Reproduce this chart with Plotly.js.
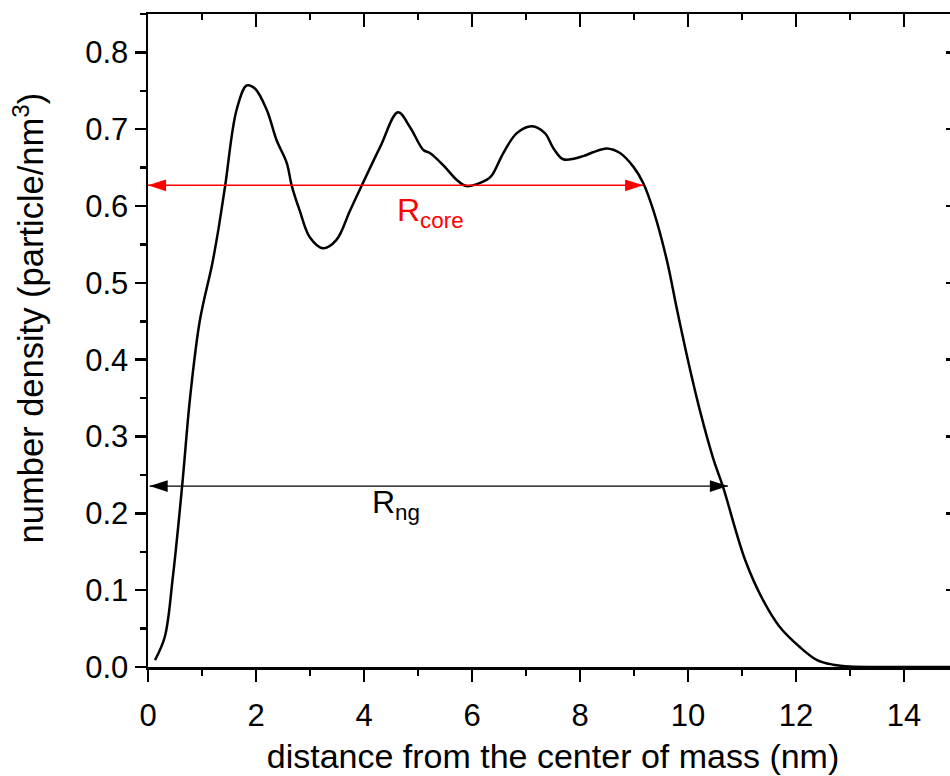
<!DOCTYPE html>
<html>
<head>
<meta charset="utf-8">
<script src="https://cdn.plot.ly/plotly-3.0.1.min.js"></script>
<style>
html,body{margin:0;padding:0;overflow:hidden;background:#fff;width:950px;height:776px;}
#chart{width:970px;height:776px;}
</style>
</head>
<body>
<div id="chart"></div>
<script>
// distance from the center of mass (nm)
const distance = [0.13,0.31,0.46,0.63,0.78,0.96,1.19,1.30,1.43,1.64,1.83,1.98,2.20,2.38,2.57,2.66,2.81,3.00,3.24,3.49,3.74,3.96,4.30,4.63,4.85,5.10,5.22,5.47,5.72,5.90,6.27,6.37,6.58,6.83,7.11,7.35,7.51,7.69,8.06,8.24,8.50,8.74,8.99,9.17,9.36,9.61,9.80,10.00,10.22,10.46,10.65,11.06,11.39,11.70,12.07,12.39,12.69,13.00,13.50,14.00,14.50,15.00];
// number density (particle/nm^3)
const density = [0.009,0.039,0.117,0.234,0.351,0.451,0.525,0.568,0.627,0.725,0.757,0.753,0.725,0.686,0.656,0.627,0.594,0.559,0.545,0.556,0.594,0.627,0.677,0.722,0.703,0.673,0.669,0.653,0.634,0.626,0.634,0.640,0.669,0.695,0.704,0.695,0.675,0.661,0.665,0.670,0.675,0.669,0.651,0.630,0.594,0.529,0.464,0.399,0.334,0.273,0.234,0.139,0.087,0.052,0.026,0.009,0.003,0.0005,0.0,0.0,0.0,0.0];

// annotation arrows
const coreArrowX = [0.0, 9.17];
const coreArrowY = [0.627, 0.627];
const ngArrowX = [0.03, 10.74];
const ngArrowY = [0.2355, 0.2355];

const xTickVals = [0,2,4,6,8,10,12,14];
const yTickVals = [0.0,0.1,0.2,0.3,0.4,0.5,0.6,0.7,0.8];

const FONT = 'Liberation Sans, Arial, sans-serif';

const traces = [
  {x: distance, y: density, mode: 'lines', type: 'scatter',
   line: {color: '#000', width: 2.5, shape: 'spline', smoothing: 1.0}, showlegend: false},
  {x: coreArrowX, y: coreArrowY, mode: 'lines+markers', type: 'scatter', xaxis: 'x2', yaxis: 'y2',
   line: {color: '#ff0000', width: 1.6},
   marker: {symbol: 'arrow', size: 19, color: '#ff0000', angle: [-90, 90], line: {width: 0}},
   showlegend: false},
  {x: ngArrowX, y: ngArrowY, mode: 'lines+markers', type: 'scatter', xaxis: 'x2', yaxis: 'y2',
   line: {color: '#000', width: 1.3},
   marker: {symbol: 'arrow', size: 19, color: '#000', angle: [-90, 90], line: {width: 0}},
   showlegend: false}
];

const axisCommon = {
  showgrid: false, zeroline: false, showline: true, linecolor: '#000', linewidth: 2.5,
  tickcolor: '#000', tickwidth: 2.5
};

const layout = {
  width: 970, height: 776,
  margin: {l: 148, r: 12, t: 14, b: 109},
  paper_bgcolor: '#fff', plot_bgcolor: '#fff',
  font: {family: FONT, color: '#000', size: 31},
  showlegend: false,
  hovermode: false,
  xaxis: Object.assign({}, axisCommon, {
    range: [0, 15], tickvals: xTickVals, ticks: 'outside', ticklen: 12, ticklabelstandoff: 7,
    minor: {dtick: 1, ticklen: 6, tickwidth: 2.5, tickcolor: '#000', ticks: 'outside'},
    tickfont: {family: FONT, size: 31, color: '#000'},
    title: {text: 'distance from the center of mass (nm)', font: {family: FONT, size: 34, color: '#000'}, standoff: 13}
  }),
  yaxis: Object.assign({}, axisCommon, {
    range: [0, 0.85], tickvals: yTickVals, tickformat: '.1f', ticks: 'outside', ticklen: 11,
    minor: {dtick: 0.05, ticklen: 6, tickwidth: 2.5, tickcolor: '#000', ticks: 'outside'},
    tickfont: {family: FONT, size: 31, color: '#000'}
  }),
  xaxis2: Object.assign({}, axisCommon, {
    overlaying: 'x', side: 'top', range: [0, 15], tickvals: xTickVals, ticks: 'inside', ticklen: 13,
    minor: {dtick: 1, ticklen: 6, tickwidth: 2.5, tickcolor: '#000', ticks: 'inside'},
    showticklabels: false
  }),
  yaxis2: Object.assign({}, axisCommon, {
    overlaying: 'y', side: 'right', range: [0, 0.85], tickvals: yTickVals, ticks: 'inside', ticklen: 12,
    minor: {dtick: 0.05, ticklen: 6, tickwidth: 2.5, tickcolor: '#000', ticks: 'inside'},
    showticklabels: false
  }),
  annotations: [
    {xref: 'paper', yref: 'paper', x: -0.148, y: 0.534, xanchor: 'center', yanchor: 'middle',
     textangle: -90, showarrow: false,
     text: 'number density (particle/nm<sup>3</sup>)', font: {family: FONT, size: 34.5, color: '#000'}},
    {xref: 'x', yref: 'y', x: 4.58, y: 0.592, xanchor: 'left', yanchor: 'middle', showarrow: false,
     text: 'R<sub>core</sub>', font: {family: FONT, size: 32, color: '#ff0000'}},
    {xref: 'x', yref: 'y', x: 4.12, y: 0.211, xanchor: 'left', yanchor: 'middle', showarrow: false,
     text: 'R<sub>ng</sub>', font: {family: FONT, size: 32, color: '#000'}}
  ]
};

Plotly.newPlot('chart', traces, layout, {displayModeBar: false, staticPlot: true});
</script>
</body>
</html>
